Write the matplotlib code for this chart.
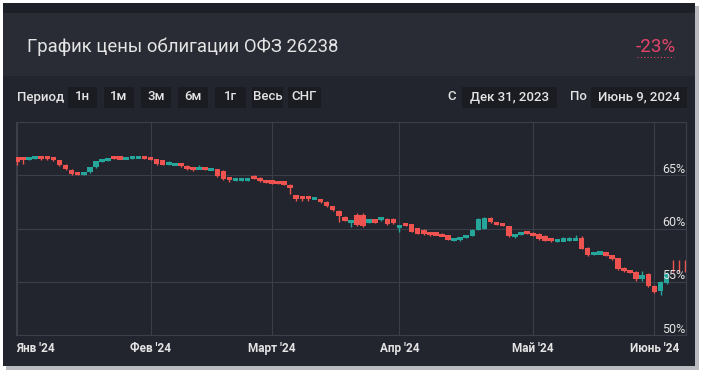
import matplotlib
matplotlib.use('Agg')
import matplotlib.pyplot as plt
from matplotlib.patches import Rectangle
from matplotlib.lines import Line2D

# ---------------- data ----------------
title = "График цены облигации ОФЗ 26238"
change_label = "-23%"
period_buttons = ["1н", "1м", "3м", "6м", "1г", "Весь", "СНГ"]
date_from = "Дек 31, 2023"
date_to = "Июнь 9, 2024"

month_labels = ["Янв '24", "Фев '24", "Март '24", "Апр '24", "Май '24", "Июнь '24"]
month_index = [0, 22, 42, 63, 85, 105]          # candle index where each month starts
y_ticks = [50, 55, 60, 65, 70]
y_labels = ["50%", "55%", "60%", "65%", ""]

opens = [66.7, 66.7, 66.5, 66.6, 66.7, 66.7, 66.7, 66.4, 66.0, 65.5,
         65.3, 65.1, 65.3, 65.75, 66.3, 66.4, 66.7, 66.68, 66.55, 66.6,
         66.65, 66.72,
         66.65, 66.5, 66.4, 66.05, 66.0, 66.05, 65.9, 65.75, 65.6, 65.75,
         65.5, 65.55, 65.4, 64.75, 64.5, 64.55, 64.55, 64.85, 64.75, 64.5,
         64.45, 64.4, 64.35, 64.1, 63.05, 63.0, 62.95, 62.8, 62.75, 62.5,
         62.1, 61.65, 61.1, 60.5, 61.3, 61.3, 60.6, 60.8, 60.8, 60.85, 60.85,
         60.1, 60.5, 60.4, 60.0, 59.9, 59.6, 59.55, 59.45, 59.35, 58.85,
         58.9, 59.2, 59.3, 59.9, 60.0, 61.0, 60.6, 60.4, 60.2, 59.3, 59.45,
         59.7,
         59.6, 59.5, 59.3, 59.1, 58.8, 58.85, 58.9, 58.95, 59.1, 58.2,
         57.6, 57.65, 57.75, 57.5, 57.2, 56.3, 56.1, 55.9, 55.25, 55.75,
         54.6, 54.1, 54.9, 56.5, 56.5, 56.5]
closes = [66.25, 66.45, 66.62, 66.68, 66.65, 66.65, 66.4, 66.0, 65.6, 65.1,
          65.05, 65.3, 65.75, 66.3, 66.45, 66.55, 66.6, 66.55, 66.65, 66.7,
          66.72, 66.6,
          66.45, 66.1, 66.0, 66.12, 66.08, 65.9, 65.6, 65.55, 65.7, 65.55,
          65.58, 64.9, 64.65, 64.6, 64.65, 64.68, 64.68, 64.7, 64.45, 64.35,
          64.3, 64.3, 64.2, 63.8, 62.85, 62.8, 62.8, 62.9, 62.45, 62.1,
          61.7, 61.2, 60.75, 60.75, 60.3, 60.2, 60.8, 60.6, 61.05, 60.45, 60.5,
          60.25, 60.3, 59.7, 59.5, 59.45, 59.4, 59.4, 59.3, 58.95, 59.1,
          59.15, 59.3, 59.9, 60.85, 60.95, 60.6, 60.35, 60.3, 59.25, 59.45, 59.6,
          59.55,
          59.3, 59.0, 58.85, 58.8, 58.95, 59.0, 59.0, 59.05, 58.1, 57.5,
          57.75, 57.75, 57.45, 57.1, 56.2, 56.0, 55.85, 55.3, 55.6, 54.6,
          54.05, 55.0, 55.7, 56.5, 56.5, 56.5]
highs = [66.75, 66.75, 66.65, 66.72, 66.72, 66.72, 66.75, 66.45, 66.05, 65.6,
         65.35, 65.35, 65.8, 66.35, 66.5, 66.6, 66.85, 66.75, 66.7, 66.85,
         66.75, 66.85,
         66.7, 66.55, 66.45, 66.3, 66.15, 66.1, 65.95, 65.8, 66.0, 65.8,
         65.62, 65.6, 65.45, 64.8, 64.7, 64.72, 64.72, 65.0, 64.8, 64.55,
         64.5, 64.45, 64.4, 64.15, 63.1, 63.05, 63.0, 62.95, 62.8, 62.55,
         62.15, 61.7, 61.2, 60.8, 61.5, 61.45, 60.85, 60.85, 61.1, 61.0, 61.0,
         60.3, 60.55, 60.45, 60.05, 59.95, 59.65, 59.65, 59.6, 59.4, 59.15,
         59.2, 59.35, 59.95, 61.0, 61.05, 61.1, 60.65, 60.45, 60.25, 59.5, 59.65,
         59.75,
         59.65, 59.55, 59.35, 59.15, 59.0, 59.2, 59.2, 59.35, 59.25, 58.25,
         57.8, 57.8, 57.8, 57.55, 57.25, 56.35, 56.15, 56.0, 56.0, 55.85,
         54.65, 55.1, 55.9, 57.0, 57.0, 57.0]
lows = [65.95, 66.1, 66.45, 66.55, 66.45, 66.45, 66.3, 65.9, 65.5, 65.0,
        65.0, 65.05, 65.25, 65.7, 66.25, 66.35, 66.55, 66.5, 66.5, 66.55,
        66.6, 66.55,
        66.4, 66.0, 65.95, 66.0, 65.95, 65.8, 65.45, 65.4, 65.55, 65.45,
        65.45, 64.85, 64.6, 64.4, 64.45, 64.5, 64.5, 64.65, 64.4, 64.25,
        64.2, 64.2, 64.1, 63.2, 62.6, 62.55, 62.55, 62.75, 62.4, 62.05,
        61.65, 60.6, 60.7, 60.1, 60.25, 60.15, 60.55, 60.5, 60.75, 60.35, 60.4,
        59.7, 60.25, 59.65, 59.45, 59.4, 59.3, 59.35, 59.25, 58.9, 58.8,
        58.85, 59.15, 59.25, 59.85, 59.95, 60.55, 60.3, 60.2, 59.2, 59.1, 59.4,
        59.5,
        59.25, 58.95, 58.8, 58.75, 58.75, 58.8, 58.85, 58.9, 58.05, 57.45,
        57.55, 57.6, 57.4, 57.05, 56.15, 55.95, 55.8, 55.1, 55.1, 54.55,
        53.95, 53.75, 54.8, 55.95, 55.95, 55.95]

# ---------------- style ----------------
W, H = 701, 371
BG = '#22252e'
HEADER = '#292c35'
BTN = '#1a1c22'
GRID = '#3b3f4a'
UP = '#26a69a'
DOWN = '#ef5350'
TXT = '#e4e4e4'
FONT = ['Roboto', 'DejaVu Sans']

fig = plt.figure(figsize=(W / 100, H / 100), dpi=100)
fig.patch.set_facecolor('white')


def box(x0, y0, x1, y1, color, z=0):
    fig.patches.append(Rectangle((x0 / W, 1 - y1 / H), (x1 - x0) / W, (y1 - y0) / H,
                                 transform=fig.transFigure, facecolor=color,
                                 edgecolor='none', zorder=z))


def txt(x, y, s, **kw):
    fig.text(x / W, 1 - y / H, s, **kw)


# panel + shadow
box(6, 6, 699, 370, '#b9bbc0', z=-3)
box(3, 3, 695, 366, BG, z=-2)
box(3, 3, 695, 13, '#1d2027', z=-1)
box(3, 13, 695, 76, HEADER, z=-1)

# header
txt(27, 47, title, fontsize=13.3, color=TXT, family=FONT, va='center', ha='left')
txt(676, 47, change_label, fontsize=13.5, color='#e2456a', family=FONT,
    va='center', ha='right')
fig.lines.append(Line2D([637 / W, 674 / W], [1 - 57 / H, 1 - 57 / H], transform=fig.transFigure,
                        color='#e2456a', lw=0.8, linestyle=(0, (1, 2))))

# toolbar
TB = dict(fontsize=9.5, color=TXT, family=FONT, fontweight='medium', va='center')
txt(17, 97, "Период", ha='left', **TB)
btn_x = [(68, 97), (104, 134), (141, 171), (178, 208), (215, 246), (252, 283), (288, 321)]
for (x0, x1), lab in zip(btn_x, period_buttons):
    box(x0, 87, x1, 108, BTN)
    txt((x0 + x1) / 2, 97, lab, ha='center', **TB)
txt(452, 97, "С", ha='center', **TB)
box(462, 87, 557, 108, BTN)
txt(509.5, 97, date_from, ha='center', **TB)
txt(578, 97, "По", ha='center', **TB)
box(591, 87, 687, 108, BTN)
txt(639, 97, date_to, ha='center', **TB)

# ---------------- chart ----------------
ax = fig.add_axes([16 / W, 1 - 335 / H, 670 / W, 213 / H])
ax.set_facecolor(BG)
ax.set_xlim(-0.16, 110.2)
ax.set_ylim(50, 70)
for s in ax.spines.values():
    s.set_color(GRID)
    s.set_linewidth(0.8)
ax.spines['top'].set_visible(False)
ax.set_xticks(month_index)
ax.set_yticks(y_ticks)
ax.grid(True, color=GRID, lw=0.8)
ax.tick_params(length=0, labelbottom=False, labelleft=False)
ax.set_axisbelow(True)

for i, (o, h, l, c) in enumerate(zip(opens, highs, lows, closes)):
    col = UP if c > o else DOWN
    ax.vlines(i, l, h, color=col, lw=1.0, zorder=3)
    if c != o:
        lo = min(o, c)
        ht = max(abs(c - o), 0.3)
        ax.bar(i, ht, bottom=lo - (ht - abs(c - o)) / 2, width=0.92, color=col,
               zorder=4, linewidth=0)

for v, lab in zip(y_ticks, y_labels):
    if lab:
        ax.text(0.999, v + 0.55, lab, transform=ax.get_yaxis_transform(), ha='right',
                va='center', fontsize=9, color=TXT, family=FONT, zorder=6)

for k, (idx, lab) in enumerate(zip(month_index, month_labels)):
    ax.text(idx if k else -0.1, -0.065, lab, transform=ax.get_xaxis_transform(),
            ha='center' if k else 'left', va='center', fontsize=8.5, color=TXT,
            family=FONT, fontweight='bold', clip_on=False)

fig.savefig('out.png', dpi=100, facecolor=fig.get_facecolor())
